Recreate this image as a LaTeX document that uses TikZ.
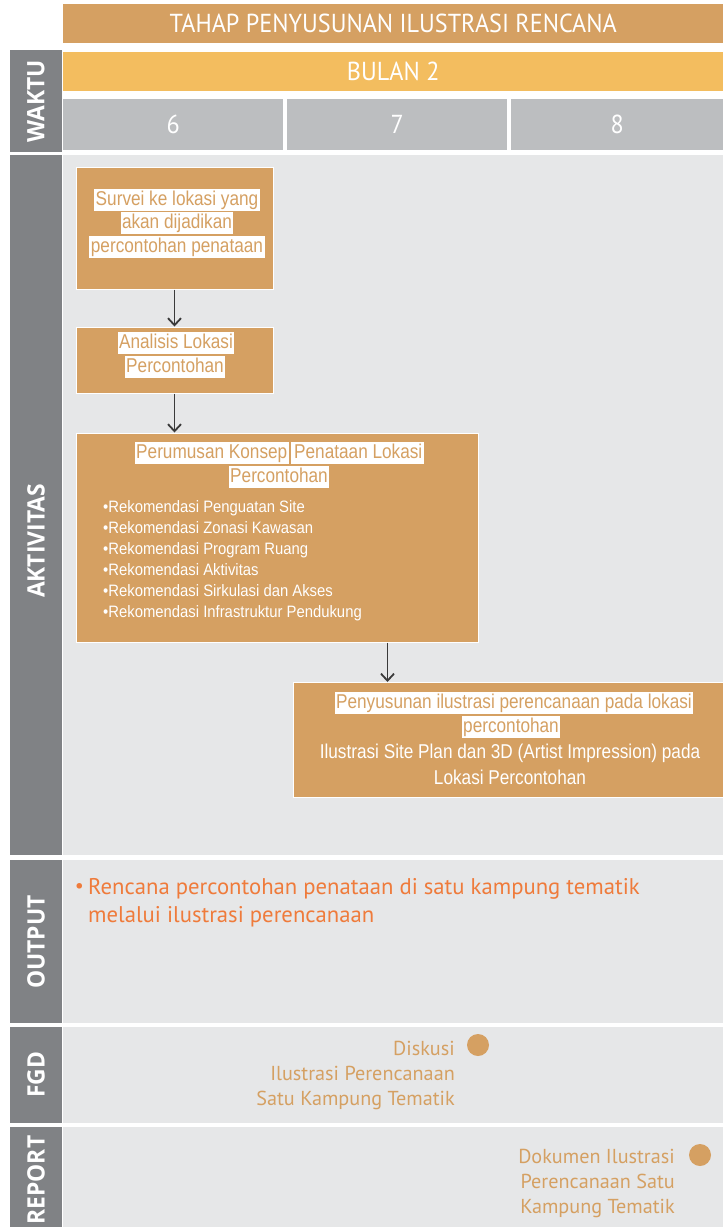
\documentclass[tikz,border=0pt]{standalone}
\usepackage{fontspec}
\usetikzlibrary{arrows.meta}
\newfontfamily\myr{PT Sans}
\newfontfamily\myrc[FakeStretch=0.93]{PT Sans}
\newfontfamily\arn[FakeStretch=0.86]{Liberation Sans}
\newfontfamily\arnb[FakeStretch=0.9]{Liberation Sans}
\newfontfamily\lblf[FakeStretch=0.95]{Open Sans}
\definecolor{tan}{HTML}{D5A062}
\definecolor{gold}{HTML}{F3BD5F}
\definecolor{cellgray}{HTML}{BCBEC0}
\definecolor{bargray}{HTML}{808285}
\definecolor{lightgray}{HTML}{E6E7E8}
\definecolor{outorange}{HTML}{EF7B3B}
\definecolor{arrowgray}{HTML}{3A3A3A}
\begin{document}
\begin{tikzpicture}[x=1pt,y=-1pt,
  band/.style={rectangle,inner sep=0pt,anchor=north west,draw=none},
  headtext/.style={text=white,font=\myrc\fontsize{26}{30}\selectfont},
  sidelabel/.style={text=white,rotate=90,font=\lblf\bfseries\fontsize{24}{27}\selectfont},
  stagebox/.style={rectangle,inner sep=0pt,fill=tan,draw=white,line width=1pt},
  hl/.style={fill=white,text=tan,inner xsep=1.5pt,inner ysep=1.5pt,text height=14.5pt,text depth=4.5pt,font=\arn\fontsize{20}{24}\selectfont},
  plain/.style={text=white,inner sep=0pt,font=\arn\fontsize{20}{24}\selectfont},
  bul/.style={text=white,inner sep=0pt,anchor=base west,font=\arnb\fontsize{16.5}{21}\selectfont},
  arr/.style={draw=arrowgray,line width=1.8pt,-{Straight Barb[length=7pt,width=13pt,line width=1.8pt]}},
  outtext/.style={text=outorange,inner sep=0pt,anchor=base west,font=\myr\fontsize{22.7}{28}\selectfont},
  milestone/.style={text=tan,inner sep=0pt,anchor=base east,font=\myr\fontsize{20.2}{25}\selectfont},
  dot/.style={circle,fill=tan,inner sep=0pt,minimum size=22pt}]
\useasboundingbox (0,0) rectangle (723,1227);
\fill[white] (0,0) rectangle (723,1227);

% header rows
\node[band,fill=tan,minimum width=660pt,minimum height=39pt] (titlebar) at (63,4) {};
\node[headtext] (titletext) at (titlebar.center) {TAHAP PENYUSUNAN ILUSTRASI RENCANA};
\node[band,fill=gold,minimum width=660pt,minimum height=39pt] (monthbar) at (63,52) {};
\node[headtext] (monthtext) at (monthbar.center) {BULAN 2};
\node[band,fill=cellgray,minimum width=220pt,minimum height=51pt] (w6) at (63,99) {};
\node[band,fill=cellgray,minimum width=220pt,minimum height=51pt] (w7) at (287,99) {};
\node[band,fill=cellgray,minimum width=212pt,minimum height=51pt] (w8) at (511,99) {};
\node[headtext] (w6t) at (w6.center) {6};
\node[headtext] (w7t) at (w7.center) {7};
\node[headtext] (w8t) at (w8.center) {8};

% side labels and row backgrounds
\node[band,fill=bargray,minimum width=52pt,minimum height=102pt] (waktubar) at (10,50) {};
\node[sidelabel] (waktut) at (36,101) {WAKTU};
\node[band,fill=bargray,minimum width=52pt,minimum height=700pt] (aktbar) at (10,155) {};
\node[band,fill=lightgray,minimum width=660pt,minimum height=700pt] (aktarea) at (63,155) {};
\node[sidelabel] (aktt) at (36,541) {AKTIVITAS};
\node[band,fill=bargray,minimum width=52pt,minimum height=163pt] (outbar) at (10,860) {};
\node[band,fill=lightgray,minimum width=660pt,minimum height=163pt] (outarea) at (63,860) {};
\node[sidelabel] (outt) at (36,942) {OUTPUT};
\node[band,fill=bargray,minimum width=52pt,minimum height=96pt] (fgdbar) at (10,1027) {};
\node[band,fill=lightgray,minimum width=660pt,minimum height=96pt] (fgdarea) at (63,1027) {};
\node[sidelabel] (fgdt) at (36,1075) {FGD};
\node[band,fill=bargray,minimum width=52pt,minimum height=100pt] (repbar) at (10,1127) {};
\node[band,fill=lightgray,minimum width=660pt,minimum height=100pt] (reparea) at (63,1127) {};
\node[sidelabel] (rept) at (36,1180) {REPORT};

% activity boxes
\node[stagebox,minimum width=197pt,minimum height=122pt] (box1) at (174.5,228) {};
\node[hl] (b1a) at (177,200) {Survei ke lokasi yang};
\node[hl] (b1b) at (177,223) {akan dijadikan};
\node[hl] (b1c) at (177,247) {percontohan penataan};

\node[stagebox,minimum width=197pt,minimum height=66pt] (box2) at (174.5,360) {};
\node[hl] (b2a) at (176,343) {Analisis Lokasi};
\node[hl] (b2b) at (175,367) {Percontohan};

\node[stagebox,minimum width=402pt,minimum height=209pt] (box3) at (277,537.5) {};
\node[hl,anchor=east] (b3a) at (289,453) {Perumusan Konsep};
\node[hl,anchor=west] (b3b) at (290.5,453) {\hspace{2pt}Penataan Lokasi};
\node[hl] (b3c) at (279,477) {Percontohan};
\node[bul] (r1) at (103,512) {•Rekomendasi Penguatan Site};
\node[bul] (r2) at (103,533) {•Rekomendasi Zonasi Kawasan};
\node[bul] (r3) at (103,554) {•Rekomendasi Program Ruang};
\node[bul] (r4) at (103,575) {•Rekomendasi Aktivitas};
\node[bul] (r5) at (103,596) {•Rekomendasi Sirkulasi dan Akses};
\node[bul] (r6) at (103,617) {•Rekomendasi Infrastruktur Pendukung};

\node[stagebox,anchor=north west,minimum width=432pt,minimum height=115pt] (box4) at (293,682) {};
\node[hl] (b4a) at (514,703) {Penyusunan ilustrasi perencanaan pada lokasi};
\node[hl] (b4b) at (511,727) {percontohan};
\node[plain] (b4c) at (510,753) {Ilustrasi Site Plan dan 3D (Artist Impression) pada};
\node[plain] (b4d) at (510,777) {Lokasi Percontohan};

% flow
\draw[arr] (box1.south) -- (box2.north);
\draw[arr] (box2.south) -- (box2.south |- box3.north);
\draw[arr] ([xshift=-91pt]box3.south east) -- ([xshift=-91pt]box3.south east |- box4.north);

% output
\node[text=outorange,inner sep=0pt,font=\myr\fontsize{20}{28}\selectfont] (outdot) at (79.5,888) {•};
\node[outtext] (out1) at (88,894) {Rencana percontohan penataan di satu kampung tematik};
\node[outtext] (out2) at (88,922) {melalui ilustrasi perencanaan};

% FGD
\node[milestone] (f1) at (455,1055) {Diskusi};
\node[milestone] (f2) at (455,1080) {Ilustrasi Perencanaan};
\node[milestone] (f3) at (455,1105) {Satu Kampung Tematik};
\node[dot] (fdot) at (478,1045) {};

% report
\node[milestone] (p1) at (675,1163) {Dokumen Ilustrasi};
\node[milestone] (p2) at (675,1188) {Perencanaan Satu};
\node[milestone] (p3) at (675,1213) {Kampung Tematik};
\node[dot] (pdot) at (700,1155) {};
\end{tikzpicture}
\end{document}
